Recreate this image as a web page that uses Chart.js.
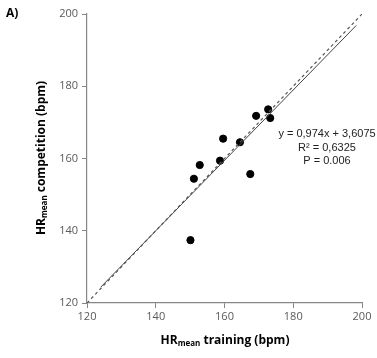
<!DOCTYPE html>
<html><head><meta charset="utf-8">
<script src="https://cdn.jsdelivr.net/npm/chart.js@4/dist/chart.umd.min.js"></script>
<style>html,body{margin:0;padding:0;background:#fff}#w{width:377px;height:358px}</style>
</head><body><div id="w"><canvas id="c" width="377" height="358"></canvas></div>
<script>
const trainingHR = [172.7, 173.3, 169.2, 159.6, 164.5, 158.7, 152.8, 151.1, 167.5, 150.1];
const competitionHR = [173.6, 171.2, 171.8, 165.5, 164.5, 159.4, 158.2, 154.4, 155.7, 137.4];
const identityX = [120, 200];
const identityY = [120, 200];
const fitX = [124, 198.3];
const fitY = [124.4, 196.8];
const tickValues = [120, 140, 160, 180, 200];
const annotationLines = ["y = 0,974x + 3,6075", "R\u00b2 = 0,6325", "P = 0.006"];

const toPts = (xs, ys) => xs.map((x, i) => ({x, y: ys[i]}));
const tickFont = {family: "'Open Sans', sans-serif", size: 11};
const tickColor = '#595959';

const textPlugin = {
  id: 'texts',
  afterDraw(chart) {
    const ctx = chart.ctx;
    ctx.save();
    ctx.fillStyle = '#000';
    ctx.font = "bold 12px 'Open Sans', sans-serif";
    ctx.textBaseline = 'middle';
    ctx.textAlign = 'left';
    ctx.fillText('A)', 6, 14);
    // x title with subscript
    function subTitle(x, y, rot) {
      ctx.save();
      ctx.translate(x, y);
      if (rot) ctx.rotate(-Math.PI / 2);
      const big = "bold 12px 'Open Sans', sans-serif";
      const small = "bold 8px 'Open Sans', sans-serif";
      const parts = [['HR', big, 0], ['mean', small, 3], [rot ? ' competition (bpm)' : ' training (bpm)', big, 0]];
      let total = 0;
      parts.forEach(p => { ctx.font = p[1]; total += ctx.measureText(p[0]).width; });
      let cx = -total / 2;
      ctx.textAlign = 'left';
      ctx.textBaseline = 'middle';
      parts.forEach(p => { ctx.font = p[1]; ctx.fillText(p[0], cx, p[2]); cx += ctx.measureText(p[0]).width; });
      ctx.restore();
    }
    subTitle(225, 341, false);
    subTitle(42, 158, true);
    ctx.font = "11px 'Liberation Sans', Arial, sans-serif";
    ctx.textAlign = 'center';
    ctx.fillStyle = '#222';
    annotationLines.forEach((t, i) => ctx.fillText(t, 327, 134 + i * 13.5));
    ctx.restore();
  }
};

new Chart(document.getElementById('c'), {
  type: 'scatter',
  data: {
    datasets: [
      {data: toPts(identityX, identityY), type: 'line', showLine: true, borderColor: '#555', borderWidth: 1.2, borderDash: [3, 3], pointRadius: 0, fill: false},
      {data: toPts(fitX, fitY), type: 'line', showLine: true, borderColor: '#444', borderWidth: 1, pointRadius: 0, fill: false},
      {data: toPts(trainingHR, competitionHR), backgroundColor: '#000', borderColor: '#000', pointRadius: 3.6, pointHoverRadius: 3.6}
    ]
  },
  options: {
    responsive: false,
    animation: false,
    events: [],
    layout: {padding: {top: 14, right: 15, left: 0, bottom: 0}},
    plugins: {legend: {display: false}, tooltip: {enabled: false}},
    scales: {
      x: {
        type: 'linear', min: 120, max: 200,
        afterBuildTicks: s => { s.ticks = tickValues.map(v => ({value: v})); },
        afterFit: s => { s.height = 55; },
        grid: {drawOnChartArea: false, drawTicks: true, tickLength: 5, color: '#868686'},
        border: {color: '#868686', width: 1.2},
        ticks: {font: tickFont, color: tickColor, padding: 2, maxRotation: 0}
      },
      y: {
        type: 'linear', min: 120, max: 200,
        afterBuildTicks: s => { s.ticks = tickValues.map(v => ({value: v})); },
        afterFit: s => { s.width = 87; },
        grid: {drawOnChartArea: false, drawTicks: true, tickLength: 5, color: '#868686'},
        border: {color: '#868686', width: 1.2},
        ticks: {font: tickFont, color: tickColor, padding: 4}
      }
    }
  },
  plugins: [textPlugin]
});
</script>
</body></html>
